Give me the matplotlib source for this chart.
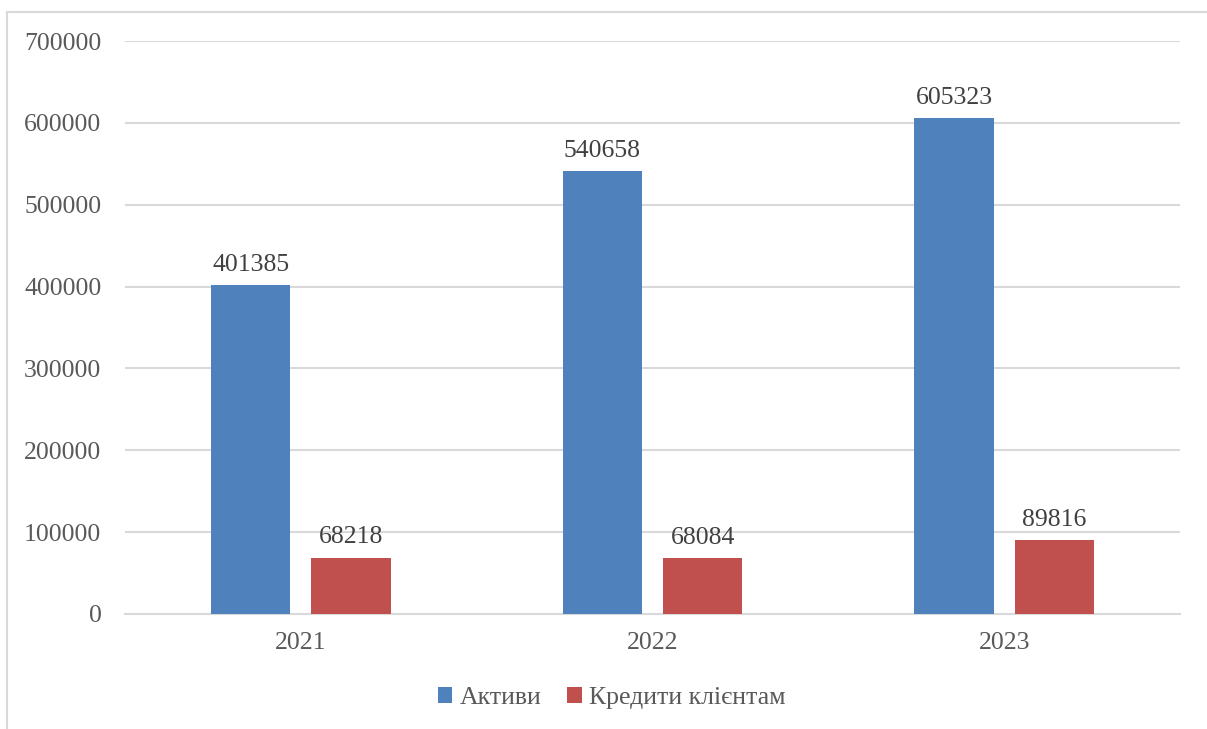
import numpy as np
import matplotlib.pyplot as plt
from matplotlib.patches import Rectangle

years = ['2021', '2022', '2023']
assets = [401385, 540658, 605323]
loans = [68218, 68084, 89816]
series_names = ['Активи', 'Кредити клієнтам']
colors = ['#4F81BD', '#C0504D']
txt = '#595959'

plt.rcParams['font.family'] = ['Liberation Serif', 'DejaVu Serif']
fs = 18.5

fig = plt.figure(figsize=[12.07, 7.29], dpi=100)
ax = fig.add_axes([125 / 1207, 1 - 614 / 729, 1055 / 1207, 573 / 729])

# chart border (cut off at right/bottom in the original)
fig.patches.append(Rectangle((7 / 1207, -0.1), 1.2, 1 - 12 / 729 + 0.1,
                             transform=fig.transFigure, fill=False,
                             ec='#D9D9D9', lw=1.5))

x = np.arange(len(years))
w = 0.225
off = 0.1425
b1 = ax.bar(x - off, assets, w, color=colors[0], label=series_names[0], zorder=3)
b2 = ax.bar(x + off, loans, w, color=colors[1], label=series_names[1], zorder=3)

for bars in (b1, b2):
    for r in bars:
        ax.annotate(str(int(r.get_height())), (r.get_x() + r.get_width() / 2, r.get_height()),
                    xytext=(0, 7), textcoords='offset points', ha='center', va='bottom',
                    fontsize=fs, color='#404040')

ax.set_xlim(-0.5, 2.5)
ax.set_ylim(0, 700000)
ax.set_yticks(range(0, 700001, 100000))
ax.set_yticklabels([str(v) for v in range(0, 700001, 100000)])
ax.set_xticks(x)
ax.set_xticklabels(years)
ax.tick_params(axis='both', length=0, labelsize=fs, labelcolor=txt)
ax.tick_params(axis='y', pad=17)
ax.tick_params(axis='x', pad=13)
ax.grid(axis='y', color='#D9D9D9', lw=1.5, zorder=0)
for s in ['top', 'right', 'left']:
    ax.spines[s].set_visible(False)
ax.spines['bottom'].set_color('#D9D9D9')
ax.spines['bottom'].set_linewidth(1.5)

leg = fig.legend(loc='center', bbox_to_anchor=(612 / 1207, 1 - 698 / 729), ncol=2,
                 frameon=False, fontsize=fs, handlelength=0.55, handleheight=0.55,
                 handletextpad=0.3, columnspacing=1.0)
for t in leg.get_texts():
    t.set_color(txt)

fig.savefig('out.png', dpi=100)
